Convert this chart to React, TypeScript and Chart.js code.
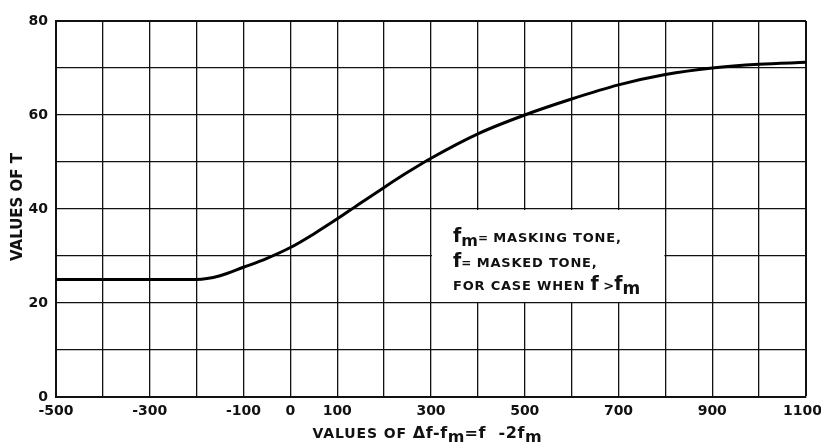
import React, { useEffect, useRef } from "react";
import { Chart, registerables } from "chart.js";

Chart.register(...registerables);

// Curve values
const xValues = [-500, -400, -300, -200, -150, -100, -50, 0, 50, 100, 150, 200, 250, 300, 400, 500, 600, 700, 800, 900, 1000, 1100];
const tValues = [25, 25, 25, 25, 25.8, 27.6, 29.5, 31.8, 34.7, 37.9, 41.3, 44.6, 47.8, 50.8, 56.0, 60.0, 63.4, 66.4, 68.6, 70.0, 70.8, 71.2];

// Tick labels shown
const xTickLabels = [-500, -300, -100, 0, 100, 300, 500, 700, 900, 1100];
const yTickLabels = [0, 20, 40, 60, 80];

// Note box extents (data units)
const noteBoxX = [300, 800];
const noteBoxY = [20, 40];

type Seg = { t: string; size: number; dy?: number; sp?: number };

const noteLines: Seg[][] = [
  [{ t: "f", size: 19 }, { t: "m", size: 16, dy: 4 }, { t: "=", size: 12 }, { t: " MASKING TONE,", size: 13, sp: 0.8 }],
  [{ t: "f", size: 19 }, { t: "=", size: 12 }, { t: " MASKED TONE,", size: 13, sp: 0.8 }],
  [{ t: "FOR CASE WHEN ", size: 13, sp: 0.8 }, { t: "f", size: 19 }, { t: " >", size: 13 }, { t: "f", size: 19 }, { t: "m", size: 17, dy: 4 }],
];

const xTitle: Seg[] = [
  { t: "VALUES OF ", size: 14, sp: 0.9 },
  { t: "\u0394f-f", size: 16, sp: 0.6 },
  { t: "m", size: 16, dy: 4 },
  { t: "=f  -2f", size: 16, sp: 0.6 },
  { t: "m", size: 16, dy: 4 },
];

const yTitle = "VALUES OF T";

const FONT = '"DejaVu Sans"';
const INK = "#111";

function segFont(s: Seg) {
  return `bold ${s.size}px ${FONT}`;
}

function segsWidth(ctx: CanvasRenderingContext2D, segs: Seg[]) {
  let w = 0;
  for (const s of segs) {
    ctx.font = segFont(s);
    (ctx as any).letterSpacing = `${s.sp ?? 0}px`;
    w += ctx.measureText(s.t).width;
  }
  return w;
}

function drawSegs(ctx: CanvasRenderingContext2D, segs: Seg[], x: number, y: number) {
  for (const s of segs) {
    ctx.font = segFont(s);
    (ctx as any).letterSpacing = `${s.sp ?? 0}px`;
    ctx.fillText(s.t, x, y + (s.dy ?? 0));
    x += ctx.measureText(s.t).width;
  }
  (ctx as any).letterSpacing = "0px";
}

const decorPlugin = {
  id: "decor",
  beforeDatasetsDraw(chart: any) {
    const ctx: CanvasRenderingContext2D = chart.ctx;
    const xs = chart.scales.x;
    const ys = chart.scales.y;
    const l = xs.getPixelForValue(noteBoxX[0]);
    const r = xs.getPixelForValue(noteBoxX[1]);
    const t = ys.getPixelForValue(noteBoxY[1]);
    const b = ys.getPixelForValue(noteBoxY[0]);
    ctx.save();
    ctx.fillStyle = "#ffffff";
    ctx.fillRect(l + 1, t + 1, r - l - 2, b - t - 2);
    ctx.fillStyle = INK;
    ctx.textAlign = "left";
    ctx.textBaseline = "alphabetic";
    const x0 = l + 22;
    const base = [t + 33, t + 58, t + 81];
    noteLines.forEach((line, i) => drawSegs(ctx, line, x0, base[i]));
    ctx.restore();
  },
  afterDraw(chart: any) {
    const ctx: CanvasRenderingContext2D = chart.ctx;
    const area = chart.chartArea;
    ctx.save();
    ctx.fillStyle = INK;
    ctx.textBaseline = "alphabetic";
    ctx.textAlign = "left";
    // x title
    const w = segsWidth(ctx, xTitle);
    const cx = (area.left + area.right) / 2 - 4;
    drawSegs(ctx, xTitle, cx - w / 2, 438);
    // y title
    ctx.translate(22, (area.top + area.bottom) / 2 - 2);
    ctx.rotate(-Math.PI / 2);
    ctx.font = `bold 15px ${FONT}`;
    ctx.textAlign = "center";
    ctx.fillText(yTitle, 0, 0);
    ctx.restore();
  },
};

export default function App() {
  const ref = useRef<HTMLCanvasElement | null>(null);

  useEffect(() => {
    document.body.style.margin = "0";
    const canvas = ref.current!;
    const chart = new Chart(canvas, {
      type: "line",
      data: {
        datasets: [
          {
            data: xValues.map((x, i) => ({ x, y: tValues[i] })),
            borderColor: "#000",
            borderWidth: 3,
            pointRadius: 0,
            cubicInterpolationMode: "monotone",
            fill: false,
          },
        ],
      },
      options: {
        animation: false,
        responsive: false,
        events: [],
        layout: { padding: { top: 21, right: 15, left: 0, bottom: 0 } },
        plugins: { legend: { display: false }, tooltip: { enabled: false }, title: { display: false } },
        scales: {
          x: {
            type: "linear",
            min: -500,
            max: 1100,
            afterFit: (s: any) => {
              s.height = 46;
              s.paddingLeft = 0;
              s.paddingRight = 0;
            },
            border: { display: true, color: INK, width: 2 },
            grid: {
              color: INK,
              lineWidth: (c: any) => (c.tick && c.tick.value === 1100 ? 2 : 1.3),
              drawTicks: false,
            },
            ticks: {
              stepSize: 100,
              autoSkip: false,
              maxRotation: 0,
              padding: 6,
              color: INK,
              font: { family: FONT, size: 14, weight: "bold" },
              callback: (v: any) => {
                const n = Number(v);
                if (!xTickLabels.includes(n)) return "";
                return n === 1100 ? "1100\u2002" : String(n);
              },
            },
          },
          y: {
            type: "linear",
            min: 0,
            max: 80,
            afterFit: (s: any) => {
              s.width = 56;
              s.paddingTop = 0;
              s.paddingBottom = 0;
            },
            border: { display: true, color: INK, width: 2 },
            grid: {
              color: INK,
              lineWidth: (c: any) => (c.tick && c.tick.value === 80 ? 2 : 1.3),
              drawTicks: false,
            },
            ticks: {
              stepSize: 10,
              autoSkip: false,
              padding: 8,
              color: INK,
              font: { family: FONT, size: 14, weight: "bold" },
              callback: (v: any) => (yTickLabels.includes(Number(v)) ? String(v) : ""),
            },
          },
        },
      },
      plugins: [decorPlugin],
    });
    return () => chart.destroy();
  }, []);

  return <canvas ref={ref} width={821} height={443} style={{ display: "block" }} />;
}
